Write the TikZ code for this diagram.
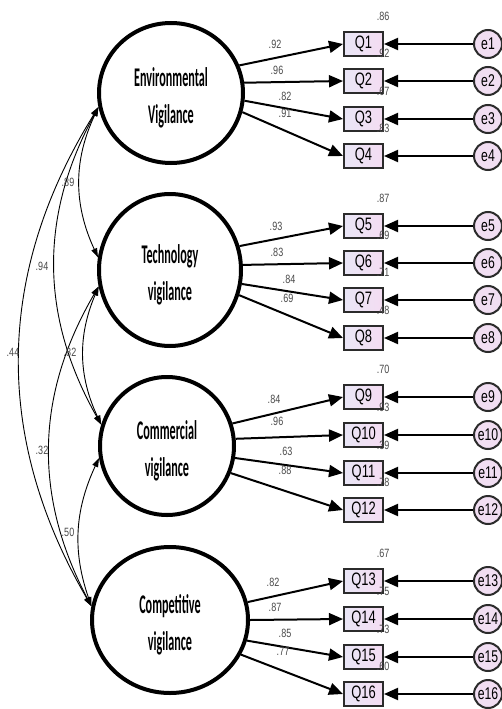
\documentclass[tikz,border=0pt]{standalone}
\usepackage{fontspec}
\setmainfont{Liberation Sans}
\newfontfamily\latfont[FakeStretch=0.45]{Carlito}
\newfontfamily\narrowfont[FakeStretch=0.72]{Liberation Sans}
\newfontfamily\numfont[FakeStretch=0.75]{Liberation Sans}
\usetikzlibrary{arrows.meta,shapes.geometric}
\definecolor{itemleft}{HTML}{E9E6F6}
\definecolor{itemright}{HTML}{F4DCF2}
\definecolor{errfill}{HTML}{F1DEF2}
\definecolor{edgegray}{HTML}{2B2B2B}
\definecolor{numgray}{HTML}{4A4A4A}
% two-line factor name, baselines placed below the ellipse centre
\newcommand{\latname}[2]{\raisebox{-30pt}[0pt][0pt]{\begin{tabular}[b]{@{}c@{}}#1\\#2\end{tabular}}}
\begin{document}
\begin{tikzpicture}[x=1pt,y=-1pt,
  latent/.style={ellipse, draw=black, line width=4pt, fill=white, inner sep=0pt,
    font=\latfont\bfseries\fontsize{27}{37}\selectfont},
  item/.style={rectangle, draw=edgegray, line width=2pt, left color=itemleft, right color=itemright,
    minimum width=39pt, minimum height=24pt, inner sep=0pt,
    font=\narrowfont\fontsize{18}{18}\selectfont},
  err/.style={circle, draw=edgegray, line width=2pt, fill=errfill, minimum size=28pt, inner sep=0pt,
    font=\narrowfont\fontsize{17}{17}\selectfont},
  coef/.style={font=\numfont\fontsize{12}{12}\selectfont, text=numgray, inner sep=0pt},
  loadarrow/.style={draw=black, line width=2pt, -{Triangle[length=14pt,width=12pt]}},
  cov/.style={draw=black, line width=0.9pt,
    {Triangle[length=9pt,width=6pt]}-{Triangle[length=9pt,width=6pt]}}
]
\fill[white] (0,0) rectangle (501,709);
\useasboundingbox (0,0) rectangle (501,709);

% factors
\node[latent, minimum width=144pt, minimum height=140pt] (env)  at (171,93)  {\latname{Environmental}{Vigilance}};
\node[latent, minimum width=142pt, minimum height=152pt] (tech) at (170,270) {\latname{Technology}{vigilance}};
\node[latent, minimum width=134pt, minimum height=138pt] (comm) at (167,446) {\latname{Commercial}{vigilance}};
\node[latent, minimum width=156pt, minimum height=146pt] (comp) at (170,620) {\latname{Competitive}{vigilance}};

% items and their error terms
\foreach \n/\y in {1/44,2/81,3/119,4/156,5/226,6/263,7/300,8/338,
                   9/397,10/435,11/473,12/510,13/581,14/619,15/657,16/694}{
  \node[item] (q\n) at (363.5,\y) {Q\n};
  \node[err]  (e\n) at (488,\y) {e\n};
  \draw[loadarrow] (e\n.west) -- (q\n.east);
}

% factor loadings
\foreach \f/\a/\q in {env/22/1,env/8/2,env/354/3,env/345/4,
                      tech/19/5,tech/4/6,tech/349/7,tech/340/8,
                      comm/19/9,comm/6/10,comm/350/11,comm/337/12,
                      comp/13/13,comp/0/14,comp/345/15,comp/334/16}{
  \draw[loadarrow] (\f.\a) -- (q\q.west);
}

% loading values
\foreach \v/\x/\y [count=\i] in {.92/275/44,.96/277/70,.82/285/96,.91/285/113,
                      .93/276/226,.83/277/252,.84/289/279,.69/287/298,
                      .84/274/399,.96/277/421,.63/286/451,.88/285/470,
                      .82/273/582,.87/275/607,.85/285/633,.77/283/651}{
  \node[coef] (w\i) at (\x,\y) {\v};
}

% squared multiple correlations
\foreach \q/\v in {1/.86,2/.92,3/.67,4/.83,5/.87,6/.69,7/.71,8/.48,
                   9/.70,10/.93,11/.39,12/.78,13/.67,14/.75,15/.73,16/.60}{
  \node[coef] (r\q) at ([xshift=-1pt,yshift=15pt]q\q.north east) {\v};
}

% factor covariances
\draw[cov] (env.191)  to[bend right=25] (tech.170);
\draw[cov] (env.191)  to[bend right=29] (comm.162);
\draw[cov] (env.191)  to[bend right=31] (comp.170);
\draw[cov] (tech.193) to[bend right=24] (comm.162);
\draw[cov] (tech.193) to[bend right=29] (comp.170);
\draw[cov] (comm.190) to[bend right=22] (comp.170);

\node[coef] (c1) at (68,182) {.89};
\node[coef] (c2) at (42,266) {.94};
\node[coef] (c3) at (13,352) {.44};
\node[coef] (c4) at (70,352) {.82};
\node[coef] (c5) at (42,450) {.32};
\node[coef] (c6) at (68,532) {.50};
\end{tikzpicture}
\end{document}
